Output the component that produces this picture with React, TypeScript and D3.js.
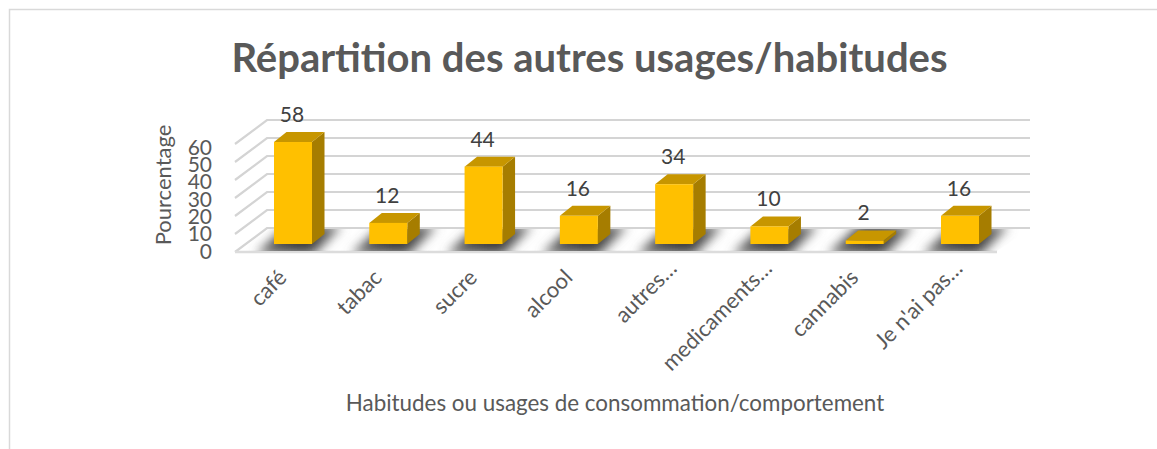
import React from "react";
import * as d3 from "d3";

const categories = ["café", "tabac", "sucre", "alcool", "autres…", "medicaments…", "cannabis", "Je n'ai pas…"];
const percentages = [58, 12, 44, 16, 34, 10, 2, 16];
const yTicks = [0, 10, 20, 30, 40, 50, 60];
const title = "Répartition des autres usages/habitudes";
const xTitle = "Habitudes ou usages de consommation/comportement";
const yTitle = "Pourcentage";

const W = 1157, H = 449;
const font = "Lato, 'Open Sans', sans-serif";
const depthX = 12.5, depthY = 10;
const wallDx = 32, wallDy = 24;

const barX = d3.scalePoint<string>().domain(categories).range([274, 941]);
const barW = 38;
const yBar = d3.scaleLinear().domain([0, 60]).range([244, 138.5]);
const yWall = d3.scaleLinear().domain([0, 60]).range([228, 120]);
const yLabel = d3.scaleLinear().domain([0, 60]).range([251, 147]);
const poly = (p: number[][]) => p.map((q) => q.join(",")).join(" ");

export default function App() {
  const floorFrontL = 235, floorFrontR = 997, floorBackL = floorFrontL + wallDx, floorBackR = 1030;
  return (
    <svg width={W} height={H} style={{ position: "absolute", left: 0, top: 0, background: "#fff" }} fontFamily={font}>
      <defs>
        <filter id="sh" x="-40%" y="-60%" width="180%" height="220%">
          <feGaussianBlur stdDeviation="5.5" />
        </filter>
        <clipPath id="floorClip">
          <polygon points={poly([[floorFrontL, 251], [floorBackL, 229], [floorBackR, 229], [floorFrontR, 251]])} />
        </clipPath>
        <linearGradient id="shFade" x1="0" x2="1" y1="0" y2="0">
          <stop offset="0" stopColor="#666" />
          <stop offset="0.55" stopColor="#3a3a3a" />
          <stop offset="1" stopColor="#777" />
        </linearGradient>
      </defs>
      <path d={`M9.5,${H}V9.5H${W}`} fill="none" stroke="#d9d9d9" strokeWidth={1.5} />
      <text x={589.5} y={72} textAnchor="middle" fontSize={40} fontWeight={700} fill="#595959">{title}</text>

      {yTicks.map((t) => (
        <polyline key={t}
          points={poly([[floorFrontL, yWall(t) + wallDy], [floorBackL, yWall(t)], [floorBackR, yWall(t)]])}
          fill="none" stroke="#d4d4d4" strokeWidth={2.2}
        />
      ))}
      <line x1={floorFrontL} x2={floorFrontR} y1={252} y2={252} stroke="#dcdcdc" strokeWidth={2.5} />

      <g clipPath="url(#floorClip)">
        {categories.map((c) => {
          const l = barX(c)!;
          return (
            <polygon key={c} filter="url(#sh)" fill="url(#shFade)"
              points={poly([[l - 18, 254], [l + barW + 2, 254], [l + barW + 30, 226], [l + 12, 226]])} />
          );
        })}
      </g>

      {categories.map((c, i) => {
        const l = barX(c)!;
        const r = l + barW;
        const top = yBar(percentages[i]);
        const bottom = yBar(0);
        return (
          <g key={c}>
            <polygon fill="#a67d00" points={poly([[r, bottom], [r, top], [r + depthX, top - depthY], [r + depthX, bottom - depthY]])} />
            <polygon fill="#c79600" points={poly([[l, top], [r, top], [r + depthX, top - depthY], [l + depthX, top - depthY]])} />
            <rect x={l} y={top} width={barW} height={bottom - top} fill="#ffc000" />
            <text x={l + barW / 2 - 1} y={top - depthY - 10} textAnchor="middle" fontSize={21} fill="#404040">{percentages[i]}</text>
          </g>
        );
      })}

      {yTicks.map((t) => (
        <text key={t} x={212} y={yLabel(t)} dy="0.36em" textAnchor="end" fontSize={21} fill="#595959">{t}</text>
      ))}
      <text transform="translate(165,185) rotate(-90)" textAnchor="middle" dominantBaseline="middle" fontSize={22} fill="#595959">{yTitle}</text>

      {categories.map((c) => {
        const cx = barX(c)! + barW / 2;
        const truncated = c.endsWith("…");
        const ax = cx + (truncated ? 0 : -9);
        const ay = truncated ? 266 : 275;
        return (
          <text key={c} transform={`translate(${ax},${ay}) rotate(-45)`} textAnchor="end" dominantBaseline="middle" fontSize={22} fill="#595959">{c}</text>
        );
      })}

      <text x={615} y={411} textAnchor="middle" fontSize={22.4} fill="#595959">{xTitle}</text>
    </svg>
  );
}
